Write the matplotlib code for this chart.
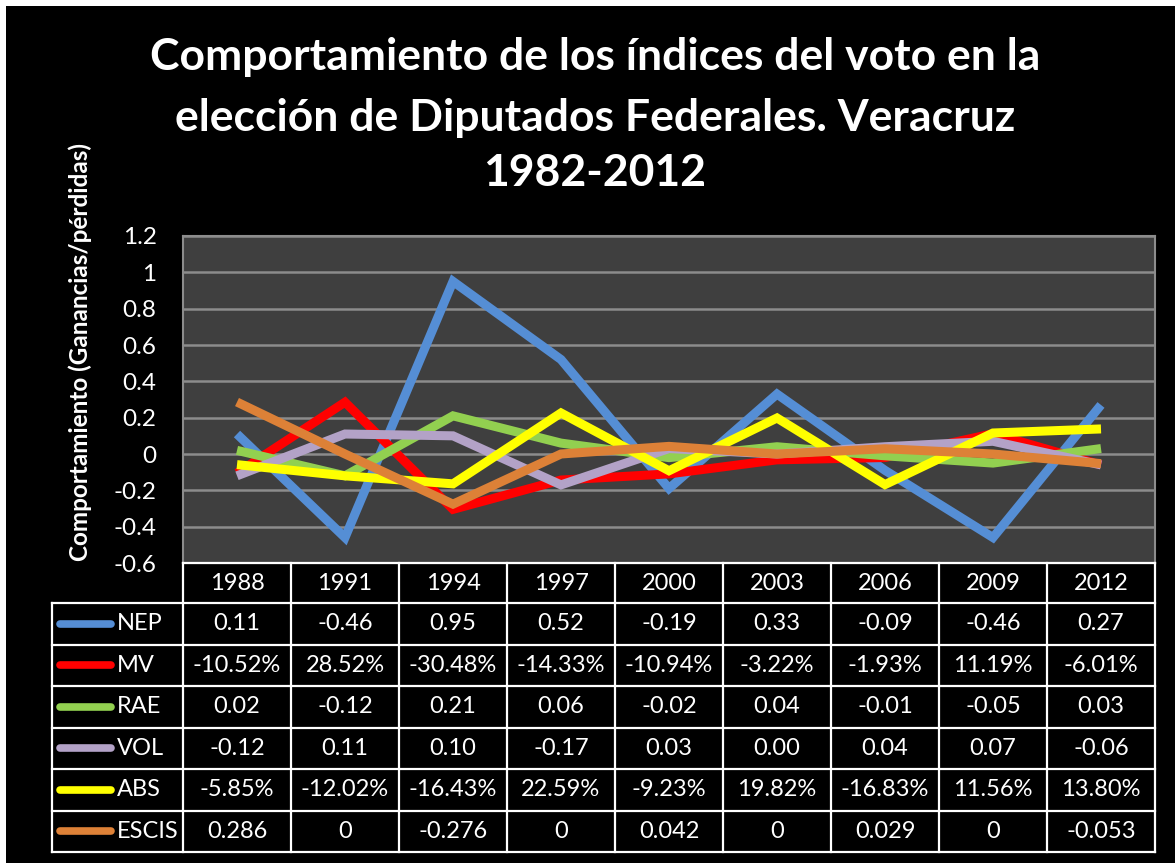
import matplotlib
matplotlib.use('Agg')
import matplotlib.pyplot as plt
from matplotlib.patches import Rectangle
from matplotlib.lines import Line2D

plt.rcParams['font.family'] = ['Lato', 'DejaVu Sans']

years = ['1988', '1991', '1994', '1997', '2000', '2003', '2006', '2009', '2012']
series_names = ['NEP', 'MV', 'RAE', 'VOL', 'ABS', 'ESCIS']
colors = ['#558ED5', '#FF0000', '#92D050', '#B3A2C7', '#FFFF00', '#DD8137']

nep = [0.11, -0.46, 0.95, 0.52, -0.19, 0.33, -0.09, -0.46, 0.27]
mv = [-10.52, 28.52, -30.48, -14.33, -10.94, -3.22, -1.93, 11.19, -6.01]      # percent
rae = [0.02, -0.12, 0.21, 0.06, -0.02, 0.04, -0.01, -0.05, 0.03]
vol = [-0.12, 0.11, 0.10, -0.17, 0.03, 0.00, 0.04, 0.07, -0.06]
abs_ = [-5.85, -12.02, -16.43, 22.59, -9.23, 19.82, -16.83, 11.56, 13.80]     # percent
escis = [0.286, 0, -0.276, 0, 0.042, 0, 0.029, 0, -0.053]

title_lines = ['Comportamiento de los índices del voto en la',
               'elección de Diputados Federales. Veracruz',
               '1982-2012']

values = [nep, [v / 100 for v in mv], rae, vol, [v / 100 for v in abs_], escis]
cell_text = [
    ['%.2f' % v for v in nep],
    ['%.2f%%' % v for v in mv],
    ['%.2f' % v for v in rae],
    ['%.2f' % v for v in vol],
    ['%.2f%%' % v for v in abs_],
    ['%g' % v for v in escis],
]

W, H = 1175, 863
fig = plt.figure(figsize=(W / 100, H / 100), dpi=100, facecolor='white')
fig.patches.append(Rectangle((6 / W, 0), 1 - 6 / W, 1 - 6 / H, transform=fig.transFigure,
                             facecolor='black', edgecolor='none', zorder=-10))

def fx(px):
    return px / W

def fy(py):
    return 1 - py / H

x0, x1, y0, y1 = 183, 1155, 236, 563
ax = fig.add_axes([fx(x0), fy(y1), fx(x1 - x0), (y1 - y0) / H])
ax.set_facecolor('#3F3F3F')
xs = list(range(len(years)))
for vals, c in zip(values, colors):
    ax.plot(xs, vals, color=c, linewidth=6.5, solid_joinstyle='miter', solid_capstyle='butt')
ax.set_xlim(-0.5, len(years) - 0.5)
ax.set_ylim(-0.6, 1.2)
ax.set_yticks([-0.6, -0.4, -0.2, 0, 0.2, 0.4, 0.6, 0.8, 1.0, 1.2])
ax.set_yticklabels(['-0.6', '-0.4', '-0.2', '0', '0.2', '0.4', '0.6', '0.8', '1', '1.2'])
ax.set_xticks([])
ax.grid(axis='y', color='#8C8C8C', linewidth=1.8)
ax.set_axisbelow(True)
ax.tick_params(axis='y', colors='white', labelsize=17.5, length=0, pad=19)
for s in ax.spines.values():
    s.set_color('#8C8C8C')
    s.set_linewidth(1.5)

for line, ty in zip(title_lines, [57, 118, 173]):
    fig.text(fx(595), fy(ty), line, color='white', fontsize=32, fontweight='bold',
             ha='center', va='center')
fig.text(fx(80), fy(352), 'Comportamiento (Ganancias/pérdidas)', color='white', fontsize=17.5,
         fontweight='bold', rotation=90, ha='center', va='center')

# data table under the plot
lc = 'white'
lw = 1.6
header_top, header_bot = 563, 603
row_h = (852 - 603) / 6
leg_left = 52
col_edges = [x0 + i * (x1 - x0) / len(years) for i in range(len(years) + 1)]

def hline(xa, xb, y):
    fig.add_artist(Line2D([fx(xa), fx(xb)], [fy(y), fy(y)], color=lc, linewidth=lw))

def vline(x, ya, yb):
    fig.add_artist(Line2D([fx(x), fx(x)], [fy(ya), fy(yb)], color=lc, linewidth=lw))

hline(x0, x1, header_top)
for i in range(7):
    hline(leg_left, x1, header_bot + i * row_h)
for x in col_edges:
    vline(x, header_top, 852)
vline(leg_left, header_bot, 852)

fs = 17
for j, yr in enumerate(years):
    cx = (col_edges[j] + col_edges[j + 1]) / 2
    fig.text(fx(cx), fy((header_top + header_bot) / 2), yr, color='white', fontsize=fs,
             ha='center', va='center')

for i, (name, c) in enumerate(zip(series_names, colors)):
    cy = header_bot + (i + 0.5) * row_h
    fig.add_artist(Line2D([fx(60), fx(111)], [fy(cy), fy(cy)], color=c, linewidth=5.5,
                          solid_capstyle='round'))
    fig.text(fx(117), fy(cy), name, color='white', fontsize=fs, ha='left', va='center')
    for j, txt in enumerate(cell_text[i]):
        cx = (col_edges[j] + col_edges[j + 1]) / 2
        fig.text(fx(cx), fy(cy), txt, color='white', fontsize=fs, ha='center', va='center')

fig.savefig('out.png', dpi=100, facecolor='white')
